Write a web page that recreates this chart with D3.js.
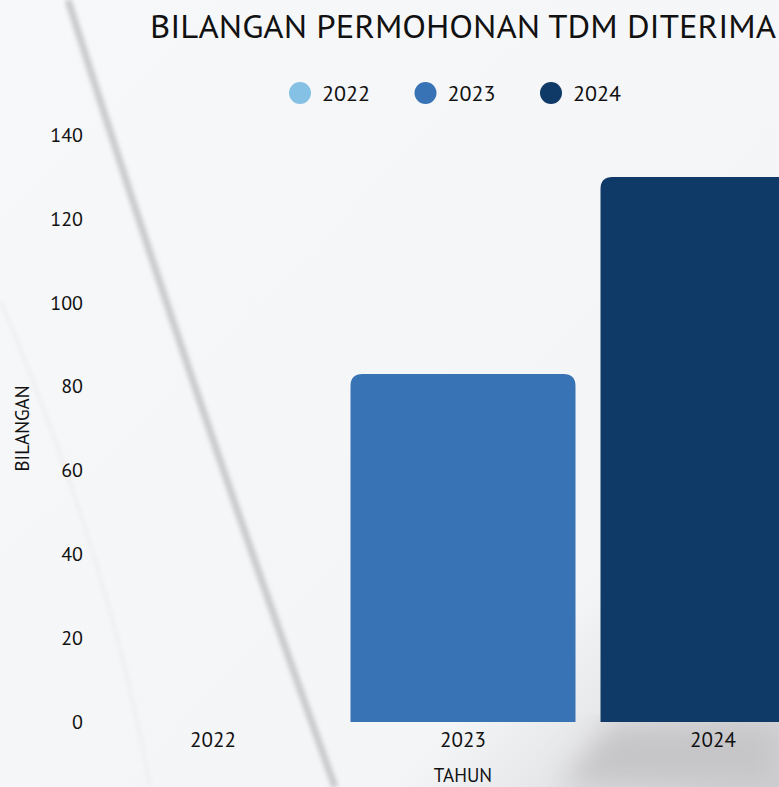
<!DOCTYPE html>
<html>
<head>
<meta charset="utf-8">
<script src="https://cdn.jsdelivr.net/npm/d3@7"></script>
<style>
  html, body { margin: 0; padding: 0; overflow: hidden; background: #f6f7f9; }
  svg { display: block; font-family: "PT Sans", Lato, "Noto Sans", sans-serif; }
</style>
</head>
<body>
<div id="chart"></div>
<script>
// data
const years = ["2022", "2023", "2024"];
const counts = [0, 83, 130];
const colors = ["#85c1e5", "#3873b5", "#0f3a67"];
const yTicks = [0, 20, 40, 60, 80, 100, 120, 140];

const width = 779, height = 787;
const margin = {top: 135, left: 88, bottom: 65};
const plotW = 750; // runs past the right edge, like the original
const plotH = height - margin.top - margin.bottom;

const svg = d3.select("#chart").append("svg")
    .attr("width", width)
    .attr("height", height);

// background, a rough stand-in for the photo behind the chart
const defs = svg.append("defs");
const bg = defs.append("linearGradient").attr("id", "bg")
    .attr("x1", 0).attr("y1", 0).attr("x2", 1).attr("y2", 1);
bg.append("stop").attr("offset", "0%").attr("stop-color", "#f7f8fa");
bg.append("stop").attr("offset", "75%").attr("stop-color", "#f4f5f7");
bg.append("stop").attr("offset", "100%").attr("stop-color", "#d0d0d3");
defs.append("filter").attr("id", "blur")
    .append("feGaussianBlur").attr("stdDeviation", 2.2);
defs.append("filter").attr("id", "blurBig")
    .append("feGaussianBlur").attr("stdDeviation", 14);

svg.append("rect").attr("width", width).attr("height", height).attr("fill", "url(#bg)");
svg.append("path")
    .attr("d", "M560,787 L610,722 L779,722 L779,787 Z")
    .attr("fill", "#c6c6c9").attr("filter", "url(#blurBig)");
svg.append("path")
    .attr("d", "M68,0 Q185,370 335,787")
    .attr("fill", "none").attr("stroke", "#c9cacc").attr("stroke-width", 7)
    .attr("filter", "url(#blur)");
svg.append("path")
    .attr("d", "M0,300 Q110,560 150,787")
    .attr("fill", "none").attr("stroke", "#ecedef").attr("stroke-width", 3)
    .attr("filter", "url(#blur)");

const x = d3.scaleBand()
    .domain(years)
    .range([margin.left, margin.left + plotW])
    .paddingInner(0.1)
    .paddingOuter(0.05);

const y = d3.scaleLinear()
    .domain([0, 140])
    .range([margin.top + plotH, margin.top]);

// title
svg.append("text")
    .attr("x", margin.left + plotW / 2)
    .attr("y", 38)
    .attr("text-anchor", "middle")
    .attr("font-size", 33)
    .attr("fill", "#111")
    .attr("textLength", 626)
    .attr("lengthAdjust", "spacingAndGlyphs")
    .text("BILANGAN PERMOHONAN TDM DITERIMA");

// legend
const legend = svg.append("g").selectAll("g")
    .data(years)
    .join("g")
    .attr("transform", (d, i) => `translate(${300 + i * 125.5},93)`);
legend.append("circle").attr("r", 11).attr("fill", (d, i) => colors[i]);
legend.append("text")
    .attr("x", 22).attr("y", 8)
    .attr("font-size", 22)
    .attr("fill", "#111")
    .text(d => d);

// bars, top corners rounded
const r = 12;
function barPath(x0, w, yTop, yBase) {
    const h = yBase - yTop;
    if (h <= 0) return "";
    const rr = Math.min(r, h, w / 2);
    return `M${x0},${yBase}V${yTop + rr}Q${x0},${yTop} ${x0 + rr},${yTop}` +
        `H${x0 + w - rr}Q${x0 + w},${yTop} ${x0 + w},${yTop + rr}V${yBase}Z`;
}
svg.append("g").selectAll("path")
    .data(years)
    .join("path")
    .attr("fill", (d, i) => colors[i])
    .attr("d", (d, i) => barPath(x(d), x.bandwidth(), y(counts[i]), y(0)));

// y axis
const yAxis = svg.append("g")
    .attr("transform", `translate(${margin.left},0)`)
    .call(d3.axisLeft(y).tickValues(yTicks).tickSize(0).tickPadding(5))
    .attr("font-family", null)
    .attr("font-size", 20);
yAxis.select(".domain").remove();
yAxis.selectAll("text").attr("fill", "#111");

// x axis
const xAxis = svg.append("g")
    .attr("transform", `translate(0,${y(0)})`)
    .call(d3.axisBottom(x).tickSize(0).tickPadding(10))
    .attr("font-family", null)
    .attr("font-size", 21);
xAxis.select(".domain").remove();
xAxis.selectAll("text").attr("fill", "#111");

// axis titles
svg.append("text")
    .attr("x", margin.left + plotW / 2)
    .attr("y", 782)
    .attr("text-anchor", "middle")
    .attr("font-size", 19)
    .attr("fill", "#111")
    .text("TAHUN");

svg.append("text")
    .attr("transform", `translate(29,${margin.top + plotH / 2}) rotate(-90)`)
    .attr("text-anchor", "middle")
    .attr("font-size", 19)
    .attr("fill", "#111")
    .text("BILANGAN");
</script>
</body>
</html>
